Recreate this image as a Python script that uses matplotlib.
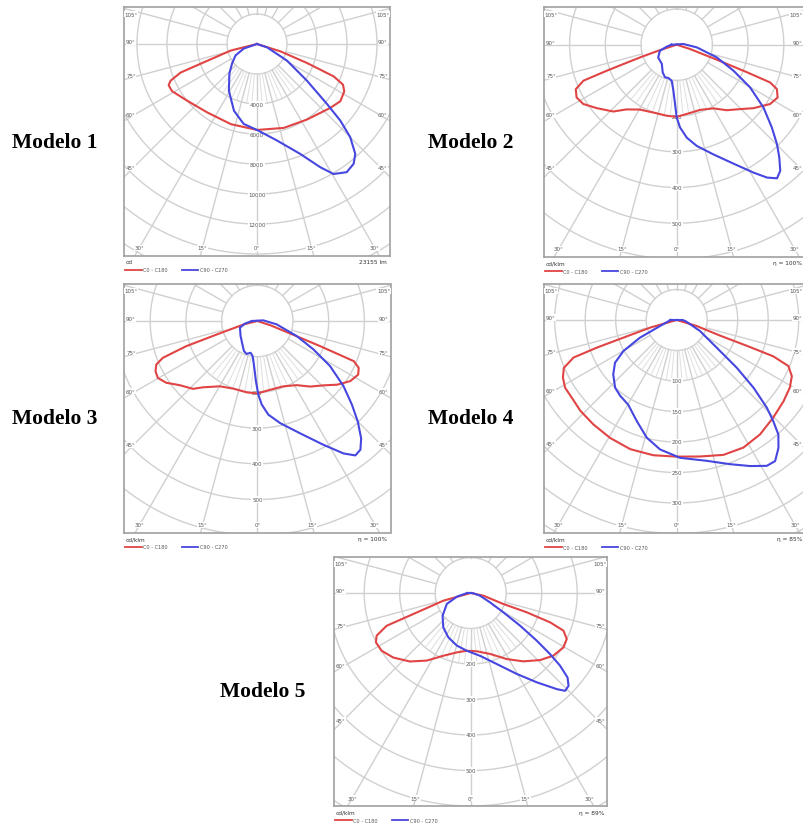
import numpy as np
import matplotlib.pyplot as plt
from matplotlib.lines import Line2D

W, H = 804, 829

# angles in degrees from nadir (negative = left half), intensities in cd or cd/klm
M1_RED_ANG = [-90, -76, -71, -69.5, -67, -65, -61, -51, -36, -18, 0, 17.6, 33.5, 48.9, 55.5, 61.5, 64.7, 67.1, 69.2, 72.6, 90]
M1_RED_CD = [0, 1800, 3750, 5440, 6260, 6500, 6480, 6000, 5640, 5620, 5730, 5870, 6040, 6480, 6740, 6620, 6340, 5550, 3560, 1630, 0]
M1_BLUE_ANG = [-90, -71, -62, -52, -43, -31, -19, -9.5, 0, 11.7, 21.5, 27.2, 30.5, 35, 38.9, 41.8, 45, 47.4, 49.4, 53.7, 61, 71.6, 90]
M1_BLUE_CD = [0, 930, 1620, 2110, 2700, 3640, 4710, 5400, 5730, 6570, 7880, 9240, 10060, 10430, 10260, 9830, 8790, 7550, 6150, 4130, 2290, 710, 0]

M2_RED_ANG = [-90, -72, -70.9, -69.6, -68.9, -66.2, -62.2, -57.6, -51.6, -43.5, -37.7, -29.6, -19, -8, 0, 8.2, 19.7, 30, 37.4, 44.5, 50.4, 57.6, 62.4, 66.1, 68, 68.6, 69.5, 72, 90]
M2_RED_CD = [0, 50, 108, 209, 280, 309, 317, 310, 286, 258, 229, 209, 201, 201, 202, 196, 194, 206, 231, 253, 279, 310, 319, 307, 282, 211, 120, 40, 0]
M2_BLUE_ANG = [-90, -78.7, -70.2, -55.4, -37.8, -26.8, -19.7, -14, -7.9, -4.1, -1.6, 0, 2.3, 6.2, 11.2, 18.5, 25.5, 31, 34.2, 36.9, 39.4, 42.3, 45.2, 49, 54.1, 59.8, 65.4, 72.4, 82.4, 95.7]
M2_BLUE_CD = [15, 29, 50, 63, 68, 87, 97, 96, 102, 129, 166, 204, 232, 262, 289, 324, 369, 418, 450, 468, 457, 427, 396, 353, 300, 238, 175, 118, 57, 19]

M3_RED_ANG = [-90, -76, -72, -70.5, -68.7, -66.7, -63.7, -60.2, -55.8, -50.4, -43.5, -39.3, -29.9, -19.6, -8.5, 0, 10.5, 21.8, 31.6, 38.9, 45.9, 51.4, 57.1, 62, 65.2, 67.4, 68.2, 69, 72, 90]
M3_RED_CD = [0, 38, 103, 211, 284, 308, 318, 321, 308, 282, 262, 240, 211, 201, 202, 203, 196, 197, 211, 236, 259, 286, 310, 320, 313, 293, 190, 110, 38, 0]
M3_BLUE_ANG = [-90, -78, -69, -48, -32.2, -24, -18.1, -11.9, -7.6, -3.7, -1.3, 0.8, 3, 6.7, 12.6, 20.9, 28.2, 33.1, 36.1, 38.7, 41.5, 45, 48.5, 52.9, 58.2, 63.2, 69.1, 80.2, 96]
M3_BLUE_CD = [15, 36, 52, 63, 78, 92, 97, 91, 99, 131, 169, 206, 234, 264, 293, 337, 394, 443, 466, 462, 439, 398, 354, 303, 240, 176, 118, 55, 17]

M4_RED_ANG = [-90, -74, -71.7, -70.9, -70, -67, -63.2, -58.8, -53.5, -46.7, -38.6, -29.5, -19.8, -9.8, 0, 9.7, 19.1, 27.6, 36.1, 44.7, 52.8, 59.2, 64, 67.6, 69.4, 69.8, 70.2, 73.3, 90]
M4_RED_CD = [0, 45, 92, 139, 180, 201, 209, 214, 214, 217, 219, 222, 225, 225, 224, 227, 234, 236, 232, 225, 220, 216, 210, 198, 169, 122, 76, 34, 0]
M4_BLUE_ANG = [-90, -70.2, -64.3, -59.8, -55.3, -49.4, -42.3, -36.7, -29.8, -21.6, -14.3, -7.3, 1.4, 12, 20.3, 26.7, 31.7, 34.9, 38.5, 41.6, 43.7, 45.8, 48.6, 51.5, 55.3, 64.8, 80.5, 90]
M4_BLUE_CD = [10, 29, 67, 101, 123, 137, 150, 155, 160, 178, 199, 214, 226, 236, 252, 268, 281, 282, 268, 251, 229, 206, 168, 126, 80, 42, 16, 10]

M5_RED_ANG = [-90, -74.3, -69.9, -68.7, -65.6, -62.5, -57, -50.2, -41.6, -33, -23.6, -13.3, -4, 5.9, 17.6, 28.6, 37.6, 46, 52.8, 59.6, 64.4, 67.9, 69.7, 71, 71.4, 78, 90]
M5_RED_CD = [0, 80, 172, 254, 291, 301, 299, 284, 258, 227, 193, 172, 163, 165, 180, 212, 243, 272, 292, 303, 300, 282, 239, 167, 97, 37, 0]
M5_BLUE_ANG = [-90, -75.3, -65.4, -51, -38.5, -26.7, -14.9, -4, 8.5, 20.1, 29.6, 36.5, 41.9, 44, 46.5, 48.9, 50.9, 52.4, 54.2, 56.5, 59.4, 64.2, 74, 90]
M5_BLUE_CD = [10, 40, 74, 102, 124, 140, 153, 163, 179, 213, 262, 313, 364, 383, 380, 362, 324, 282, 229, 167, 107, 60, 27, 5]

MODELS = ["Modelo 1", "Modelo 2", "Modelo 3", "Modelo 4", "Modelo 5"]
UNITS = ["cd", "cd/klm", "cd/klm", "cd/klm", "cd/klm"]
NOTES = ["23155 lm", "η = 100%", "η = 100%", "η = 85%", "η = 89%"]
STEPS = [2000, 100, 100, 50, 100]
SIDE_ANGLES = [45, 60, 75, 90, 105]
BOTTOM_ANGLES = [-30, -15, 0, 15, 30]
LEGEND = ["C0 - C180", "C90 - C270"]

RED = "#e04444"
BLUE = "#4646e0"
GRID = "#d0d0d0"
FINE = "#dedede"
TXT = "#555555"

fig = plt.figure(figsize=(W / 100, H / 100), dpi=100)


def fx(x):
    return x / W


def fy(y):
    return 1 - y / H


def curve(ax, ang, cd, color):
    a = np.radians(ang)
    r = np.array(cd, dtype=float)
    x = r * np.sin(a)
    y = -r * np.cos(a)
    x = np.append(x, x[0])
    y = np.append(y, y[0])
    ax.plot(x, y, color=color, lw=1.5, zorder=5, solid_joinstyle="round")


def polar_panel(box, center, ring_px, step, red, blue, unit, note):
    left, top, right, bottom = box
    cx, cy = center
    k = ring_px / step  # pixels per unit
    ax = fig.add_axes([fx(left), fy(bottom), (right - left) / W, (bottom - top) / H])
    x0, x1 = -(cx - left) / k, (right - cx) / k
    y0, y1 = -(bottom - cy) / k, (cy - top) / k
    ax.set_xlim(x0, x1)
    ax.set_ylim(y0, y1)
    ax.set_xticks([])
    ax.set_yticks([])
    for s in ax.spines.values():
        s.set_color("#a0a0a0")
        s.set_linewidth(1.2)

    # rings and rays
    t = np.linspace(0, 2 * np.pi, 400)
    for n in range(1, 13):
        ax.plot(n * step * np.sin(t), n * step * np.cos(t), color=GRID, lw=1.0, zorder=1)
    rmax = 13 * step
    for a in range(0, 360, 15):
        ar = np.radians(a)
        ax.plot([step * np.sin(ar), rmax * np.sin(ar)], [-step * np.cos(ar), -rmax * np.cos(ar)],
                color=GRID, lw=1.0, zorder=1)
    for a in range(-40, 45, 5):
        if a % 15 == 0:
            continue
        ar = np.radians(a)
        ax.plot([step * np.sin(ar), 2 * step * np.sin(ar)], [-step * np.cos(ar), -2 * step * np.cos(ar)],
                color=FINE, lw=0.7, zorder=1)

    box_kw = dict(facecolor="white", edgecolor="none", pad=0.4)
    fig_right = (W - 1.5 - cx) / k  # keep labels inside the picture

    # angle labels on the sides
    for a in SIDE_ANGLES:
        ar = np.radians(a)
        for sgn, xe in ((-1, x0), (1, x1)):
            xd = abs(xe) - 7 / k
            yd = -xd * np.cos(ar) / np.sin(ar) + 2.5 / k
            yd = min(yd, y1 - 7 / k)
            ha = "center"
            xp = sgn * xd
            if sgn > 0 and xp + 6 / k > fig_right:
                xp, ha = fig_right, "right"
            ax.text(xp, yd, f"{a}°", fontsize=4, color=TXT, ha=ha, va="center",
                    bbox=box_kw, zorder=3)
    for a in BOTTOM_ANGLES:
        ar = np.radians(a)
        yd = y0 + 8 / k
        xd = -yd * np.tan(ar)
        xd = max(min(xd, x1 - 8 / k), x0 + 8 / k)
        ax.text(xd, yd, f"{abs(a)}°", fontsize=4, color=TXT, ha="center", va="center",
                bbox=box_kw, zorder=3)
    # ring values
    for n in range(2, 9):
        if n * step > -y0 - 6 / k:
            break
        ax.text(0, -n * step, f"{n * step}", fontsize=4, color=TXT, ha="center", va="center",
                bbox=box_kw, zorder=3)

    curve(ax, red[0], red[1], RED)
    curve(ax, blue[0], blue[1], BLUE)

    # legend under the frame
    fig.text(fx(left + 2), fy(bottom + 6), unit, fontsize=4.2, color="#333333", ha="left", va="center")
    fig.text(fx(min(right - 3, W - 1.5)), fy(bottom + 6), note, fontsize=4.2, color="#333333",
             ha="right", va="center")
    ly = fy(bottom + 14)
    fig.add_artist(Line2D([fx(left + 1), fx(left + 18)], [ly, ly], color=RED, lw=1.3))
    fig.text(fx(left + 19.5), ly, LEGEND[0], fontsize=3.6, color=TXT, ha="left", va="center")
    fig.add_artist(Line2D([fx(left + 58), fx(left + 74)], [ly, ly], color=BLUE, lw=1.3))
    fig.text(fx(left + 76), ly, LEGEND[1], fontsize=3.6, color=TXT, ha="left", va="center")


polar_panel((124, 8.3, 390, 256.7), (257, 45), 30, STEPS[0],
            (M1_RED_ANG, M1_RED_CD), (M1_BLUE_ANG, M1_BLUE_CD), UNITS[0], NOTES[0])
polar_panel((544, 8.3, 809.5, 258), (676.7, 45.7), 35.7, STEPS[1],
            (M2_RED_ANG, M2_RED_CD), (M2_BLUE_ANG, M2_BLUE_CD), UNITS[1], NOTES[1])
polar_panel((124, 284.7, 390.5, 533.7), (257.3, 322), 35.7, STEPS[2],
            (M3_RED_ANG, M3_RED_CD), (M3_BLUE_ANG, M3_BLUE_CD), UNITS[2], NOTES[2])
polar_panel((544, 284.7, 809.5, 534), (676.7, 321), 30.5, STEPS[3],
            (M4_RED_ANG, M4_RED_CD), (M4_BLUE_ANG, M4_BLUE_CD), UNITS[3], NOTES[3])
polar_panel((334, 557.7, 607.3, 807.3), (470.7, 594), 35.5, STEPS[4],
            (M5_RED_ANG, M5_RED_CD), (M5_BLUE_ANG, M5_BLUE_CD), UNITS[4], NOTES[4])

label_pos = [(12, 143), (428, 143), (12, 419), (428, 419), (220, 692)]
for name, (x, y) in zip(MODELS, label_pos):
    fig.text(fx(x), fy(y), name, fontsize=15.5, fontfamily="Liberation Serif", fontweight="bold",
             ha="left", va="center", color="black")

fig.savefig("out.png", dpi=100)
